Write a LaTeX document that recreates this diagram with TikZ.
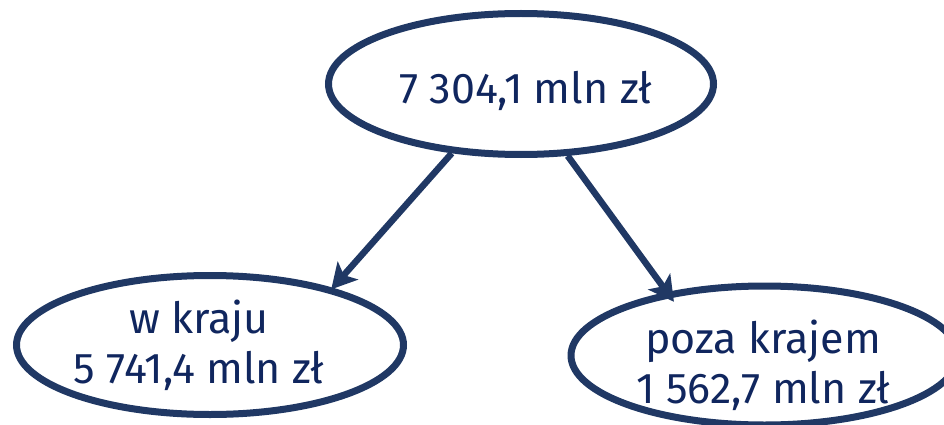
\documentclass[tikz,border=0pt]{standalone}
\usepackage{fontspec}
\setmainfont{Fira Sans}
\usetikzlibrary{shapes.geometric,arrows.meta}
\definecolor{navy}{HTML}{203864}
\definecolor{txtnavy}{HTML}{10265E}
\begin{document}
\begin{tikzpicture}[x=1pt,y=-1pt,
  oval/.style={ellipse, draw=navy, line width=7pt, minimum width=387pt, minimum height=139pt, inner sep=0pt},
  lbl/.style={text=txtnavy, font=\fontsize{43}{50}\selectfont, align=center, inner sep=0pt},
  arr/.style={draw=navy, line width=6.5pt, -{Stealth[length=25pt,width=27pt,inset=6pt]}}]
\useasboundingbox (0,0) rectangle (944,425);
\clip (0,0) rectangle (944,425);
\node[oval, minimum width=385pt, minimum height=141pt] (top) at (521,84) {};
\node[oval] (left) at (210,345) {};
\node[oval] (right) at (764.5,355.5) {};
\node[lbl, anchor=base] (toptext) at (525.5,103) {7 304,1 mln zł};
\node[lbl, anchor=base] (lefttext) at (199,383) {w kraju\\5 741,4 mln zł};
\node[lbl, anchor=base] (righttext) at (763,403) {poza krajem\\1 562,7 mln zł};
\draw[arr, shorten >=-2pt] (top.225) -- (left.25);
\draw[arr, shorten >=-12pt] (top.-57) -- (right.147);
\end{tikzpicture}
\end{document}
